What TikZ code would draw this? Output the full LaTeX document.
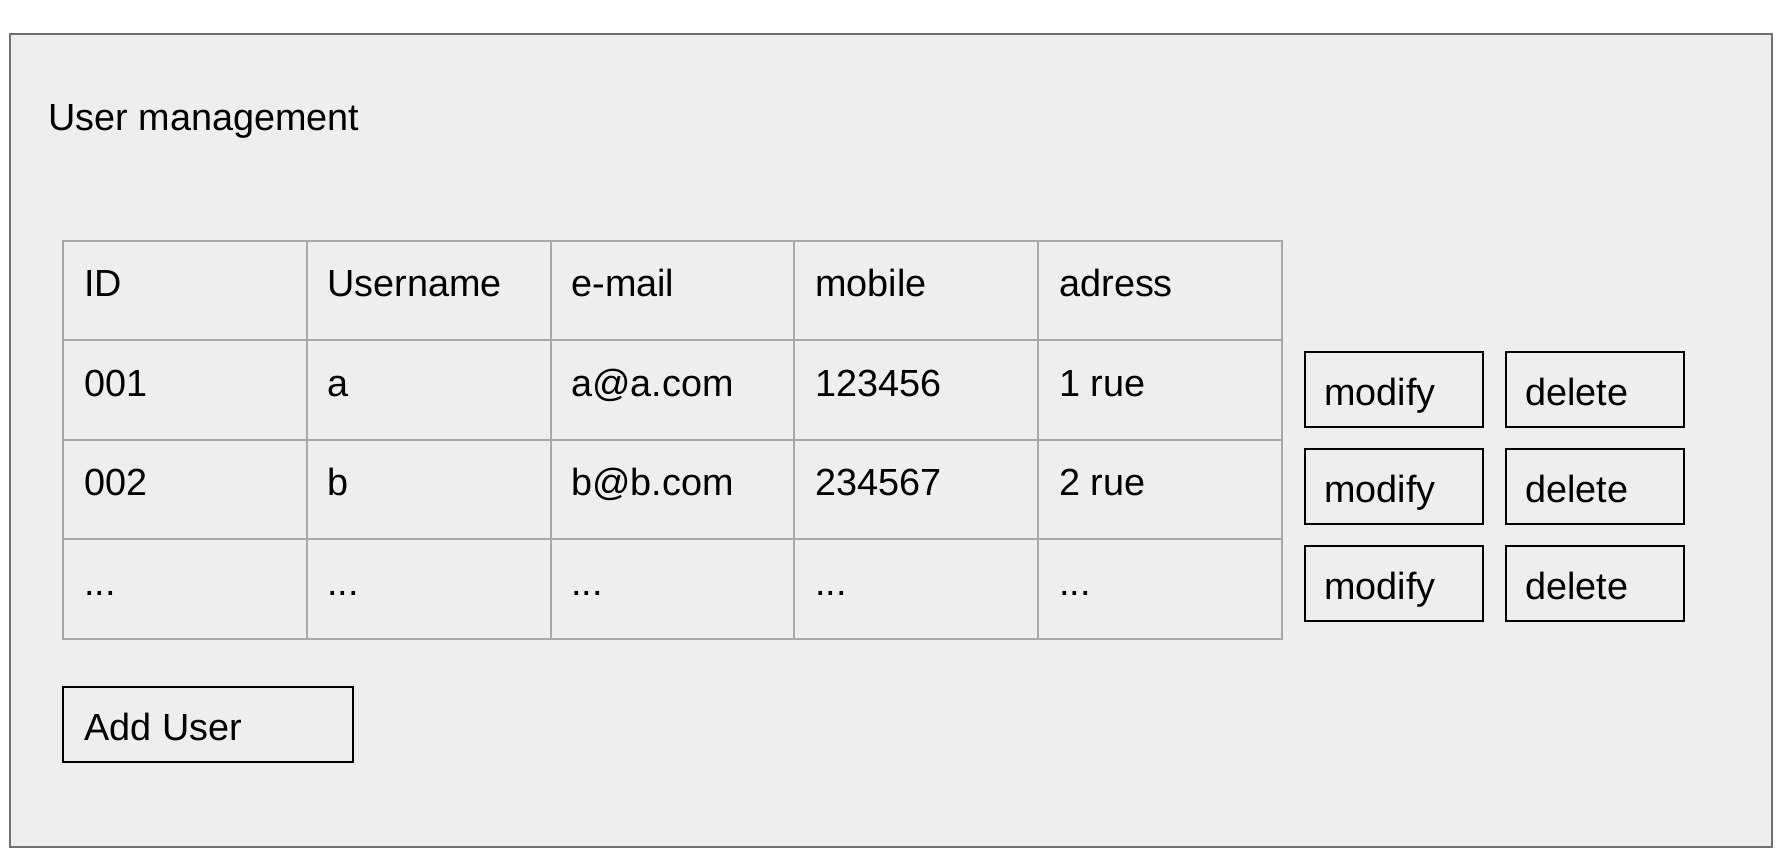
\documentclass[tikz,border=0pt]{standalone}
\usepackage{fontspec}
\setmainfont{Liberation Sans}
\definecolor{panelgray}{HTML}{EEEEEE}
\definecolor{framegray}{HTML}{707070}
\definecolor{gridgray}{HTML}{A8A8A8}
\tikzset{
  txt/.style={anchor=base west, inner sep=0pt, font=\fontsize{18.9}{22}\selectfont},
  btn/.style={draw=black, line width=1pt},
  grid/.style={draw=gridgray, line width=1pt},
}
\begin{document}
\begin{tikzpicture}
[x=0.5pt,y=-0.5pt]
\useasboundingbox (0,0) rectangle (1788,866);
\draw [framegray, fill=panelgray, line width=1pt] (10,34) rectangle (1772,847);
\node [txt] (title) at (48,131) {User management};
% table
\draw [grid] (63,241) rectangle (1282,639);
\draw [grid] (63,340.4) -- (1282,340.4);
\draw [grid] (63,439.8) -- (1282,439.8);
\draw [grid] (63,539.2) -- (1282,539.2);
\draw [grid] (306.8,241) -- (306.8,639);
\draw [grid] (550.6,241) -- (550.6,639);
\draw [grid] (794.4,241) -- (794.4,639);
\draw [grid] (1038.2,241) -- (1038.2,639);
\node [txt] (hid) at (84,297) {ID};
\node [txt] (hname) at (327,297) {Username};
\node [txt] (hmail) at (571,297) {e-mail};
\node [txt] (hmob) at (815,297) {mobile};
\node [txt] (hadr) at (1059,297) {adress};
\node [txt] (id1) at (84,396.4) {001};
\node [txt] (name1) at (327,396.4) {a};
\node [txt] (mail1) at (571,396.4) {a@a.com};
\node [txt] (mob1) at (815,396.4) {123456};
\node [txt] (adr1) at (1059,396.4) {1 rue};
\node [txt] (id2) at (84,495.8) {002};
\node [txt] (name2) at (327,495.8) {b};
\node [txt] (mail2) at (571,495.8) {b@b.com};
\node [txt] (mob2) at (815,495.8) {234567};
\node [txt] (adr2) at (1059,495.8) {2 rue};
\node [txt] (id3) at (84,595.2) {...};
\node [txt] (name3) at (327,595.2) {...};
\node [txt] (mail3) at (571,595.2) {...};
\node [txt] (mob3) at (815,595.2) {...};
\node [txt] (adr3) at (1059,595.2) {...};
% buttons
\draw [btn] (1305,352) rectangle (1483,427);
\node [txt] (mod1) at (1324,405.5) {modify};
\draw [btn] (1506,352) rectangle (1684,427);
\node [txt] (del1) at (1525,405.5) {delete};
\draw [btn] (1305,449) rectangle (1483,524);
\node [txt] (mod2) at (1324,502.5) {modify};
\draw [btn] (1506,449) rectangle (1684,524);
\node [txt] (del2) at (1525,502.5) {delete};
\draw [btn] (1305,546) rectangle (1483,621);
\node [txt] (mod3) at (1324,599.5) {modify};
\draw [btn] (1506,546) rectangle (1684,621);
\node [txt] (del3) at (1525,599.5) {delete};
\draw [btn] (63,687) rectangle (353,762);
\node [txt] (add) at (84,740) {Add User};
\end{tikzpicture}
\end{document}
